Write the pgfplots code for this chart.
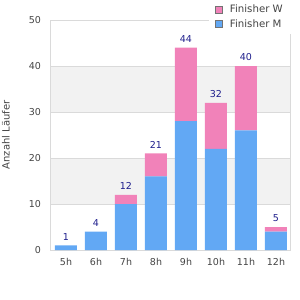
\documentclass[border=0pt]{standalone}
\usepackage{pgfplots}
\pgfplotsset{compat=1.18}
\usepackage{fontspec}
\setmainfont{DejaVu Sans}
\definecolor{barM}{RGB}{98,168,244}
\definecolor{barW}{RGB}{241,130,185}
\definecolor{band}{RGB}{242,242,242}
\definecolor{gridc}{RGB}{218,218,218}
\definecolor{ticktext}{RGB}{68,68,68}
\definecolor{lbl}{RGB}{30,30,140}
\pgfplotsset{common/.style={
  at={(0,0)}, anchor=south west,
  scale only axis, width=240pt, height=230pt,
  xmin=-0.5, xmax=7.5, ymin=0, ymax=50,
  bar width=22pt,
  /pgf/number format/assume math mode=true,
}}
\begin{document}
\begin{tikzpicture}
% background: bands, grid and total labels
\begin{axis}[common, ybar,
  hide axis,
]
\fill[band] (axis cs:-0.5,10) rectangle (axis cs:7.5,20);
\fill[band] (axis cs:-0.5,30) rectangle (axis cs:7.5,40);
\draw[gridc, line width=0.8pt] (axis cs:-0.5,10) -- (axis cs:7.5,10);
\draw[gridc, line width=0.8pt] (axis cs:-0.5,20) -- (axis cs:7.5,20);
\draw[gridc, line width=0.8pt] (axis cs:-0.5,30) -- (axis cs:7.5,30);
\draw[gridc, line width=0.8pt] (axis cs:-0.5,40) -- (axis cs:7.5,40);
\addplot[draw=none, fill=none, nodes near coords,
  every node near coord/.append style={font=\fontsize{9.5}{11}\selectfont, text=lbl, anchor=south, inner sep=0pt, yshift=5pt}]
  coordinates {(0,1) (1,4) (2,12) (3,21) (4,44) (5,32) (6,40) (7,5)};
\end{axis}
% foreground: stacked bars, axes, legend
\begin{axis}[common,
  ybar stacked,
  xtick={0,...,7}, xticklabels={5h,6h,7h,8h,9h,10h,11h,12h},
  ytick={0,10,20,30,40,50},
  axis line style={gridc, line width=1pt},
  major tick length=0pt,
  tick label style={font=\fontsize{9.5}{11}\selectfont, text=ticktext},
  yticklabel style={xshift=-6.5pt},
  xticklabel style={yshift=-5pt},
  ylabel={Anzahl Läufer},
  every axis y label/.style={at={(axis description cs:0,0.5)}, xshift=-45pt, rotate=90, anchor=center, font=\fontsize{10}{12}\selectfont, text=ticktext},
  reverse legend,
  legend cell align=left,
  legend style={at={(1,1.087)}, anchor=north east, draw=none, fill=white,
    font=\fontsize{10.2}{12}\selectfont, text=ticktext, inner xsep=6pt, inner ysep=3pt, row sep=1pt,
    /tikz/every odd column/.append style={column sep=5pt}},
]
\addplot[fill=barM, draw=none,
  legend image code/.code={\draw[fill=barM,draw=gray!90!black,line width=0.7pt] (0pt,-3.5pt) rectangle (7pt,3.5pt);}]
  coordinates {(0,1) (1,4) (2,10) (3,16) (4,28) (5,22) (6,26) (7,4)};
\addlegendentry{Finisher M}
\addplot[fill=barW, draw=none,
  legend image code/.code={\draw[fill=barW,draw=gray!90!black,line width=0.7pt] (0pt,-3.5pt) rectangle (7pt,3.5pt);}]
  coordinates {(0,0) (1,0) (2,2) (3,5) (4,16) (5,10) (6,14) (7,1)};
\addlegendentry{Finisher W}
\end{axis}
\pgfresetboundingbox
\path (-51pt,-50pt) rectangle (249pt,250pt);
\end{tikzpicture}
\end{document}
